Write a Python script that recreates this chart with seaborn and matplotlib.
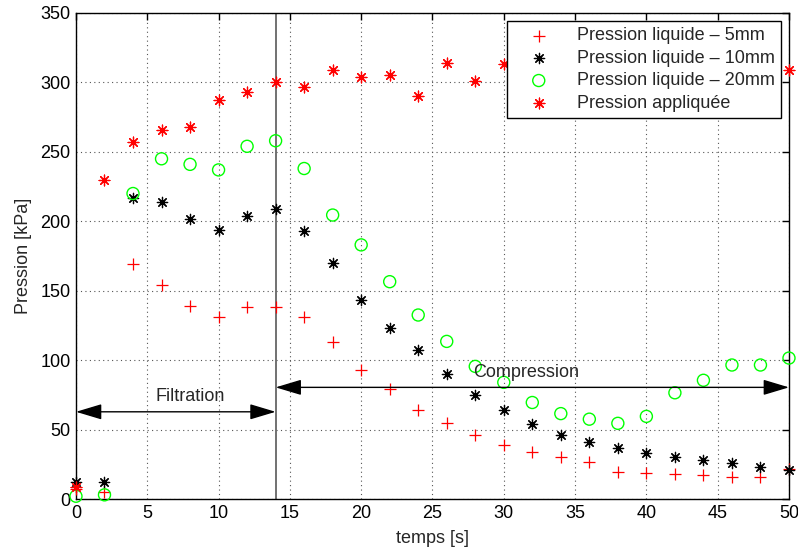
import numpy as np
import pandas as pd
import matplotlib
matplotlib.use("Agg")
import matplotlib.pyplot as plt
import seaborn as sns

# temps de mesure [s]
temps = [0, 2, 4, 6, 8, 10, 12, 14, 16, 18, 20, 22, 24, 26,
         28, 30, 32, 34, 36, 38, 40, 42, 44, 46, 48, 50]

# pressions [kPa]
p_5mm = [7, 5, 169, 154, 139, 131, 138, 138, 131, 113, 93, 79, 64, 55,
         46, 39, 33.5, 30, 26.5, 19.5, 19, 18, 17, 15.5, 15.5, 21.5]
p_10mm = [12, 12.5, 217, 214, 202, 194, 204, 209, 193, 170, 143, 123, 107, 90,
          75, 64, 54, 46, 41, 37, 33, 30, 28, 26, 23, 21]
p_20mm = [2, 3, 220, 245, 241, 237, 254, 258, 238, 204.5, 183, 156.5, 132.5, 113.5,
          95.5, 84, 69.5, 61.5, 57.5, 54.5, 59.5, 76.5, 85.5, 96.5, 96.5, 101.5]
# points caches par la legende entre 32 et 48 s
p_appliquee = [9, 230, 257, 266, 268, 287, 293, 300, 297, 309, 304, 305, 290, 314,
               301, 313, np.nan, np.nan, np.nan, np.nan, np.nan, np.nan, np.nan, np.nan, np.nan, 309]

t_fin_filtration = 14

df = pd.DataFrame({"temps": temps, "p5": p_5mm, "p10": p_10mm,
                   "p20": p_20mm, "papp": p_appliquee})

sns.set_theme(style="white")
plt.rcParams['font.family'] = ['Liberation Sans', 'DejaVu Sans']
fs = 13

fig = plt.figure(figsize=(7.98, 5.48), dpi=100)
ax = fig.add_axes([0.0952, 0.0894, 0.8935, 0.8869])

star = (8, 2, 0)
sns.scatterplot(data=df, x="temps", y="p5", ax=ax, marker="+", s=80,
                color="#ff0000", linewidth=0.9, clip_on=False, zorder=3,
                label="Pression liquide \u2013 5mm")
sns.scatterplot(data=df, x="temps", y="p10", ax=ax, marker=star, s=55,
                color="black", linewidth=0.9, clip_on=False, zorder=3,
                label="Pression liquide \u2013 10mm")
sns.scatterplot(data=df, x="temps", y="p20", ax=ax, marker="o", s=75,
                color="#00ff00", facecolor="none", edgecolor="#00ff00",
                linewidth=1, clip_on=False, zorder=3,
                label="Pression liquide \u2013 20mm")
sns.scatterplot(data=df, x="temps", y="papp", ax=ax, marker=star, s=60,
                color="#ff0000", linewidth=0.9, clip_on=False, zorder=3,
                label="Pression appliqu\u00e9e")

ax.axvline(t_fin_filtration, color="#666666", lw=1.3, zorder=2)

arrow = dict(arrowstyle="<|-|>,head_length=1.0,head_width=0.3", color="black",
             lw=1, shrinkA=0, shrinkB=0, mutation_scale=16)
ax.annotate("", xy=(0, 62.8), xytext=(t_fin_filtration, 62.8), arrowprops=arrow, zorder=4)
ax.annotate("", xy=(t_fin_filtration, 80.4), xytext=(50, 80.4), arrowprops=arrow, zorder=4)
ax.text(8, 73.5, "Filtration", ha="center", va="center", fontsize=fs)
ax.text(31.6, 91, "Compression", ha="center", va="center", fontsize=fs)

ax.set_xlim(0, 50)
ax.set_ylim(0, 350)
ax.set_xticks(range(0, 51, 5))
ax.set_yticks(range(0, 351, 50))
ax.grid(True, linestyle=(0, (1, 3)), color="#555555", lw=0.8)
ax.set_axisbelow(True)
ax.tick_params(direction="in", top=True, right=True, length=5, width=1,
               labelsize=fs, colors="black", pad=4)
for s in ax.spines.values():
    s.set_color("black")
    s.set_linewidth(1)

ax.set_xlabel("temps [s]", fontsize=fs, labelpad=6)
ax.set_ylabel("Pression [kPa]", fontsize=fs, labelpad=6)

leg = ax.legend(loc="upper right", fontsize=fs, frameon=True, fancybox=False,
                edgecolor="black", framealpha=1, borderaxespad=0.45,
                labelspacing=0.3, borderpad=0.35, handletextpad=0.7,
                handlelength=2.8, scatterpoints=1)
leg.get_frame().set_linewidth(1)
leg.set_zorder(10)

fig.savefig("out.png", dpi=100)
